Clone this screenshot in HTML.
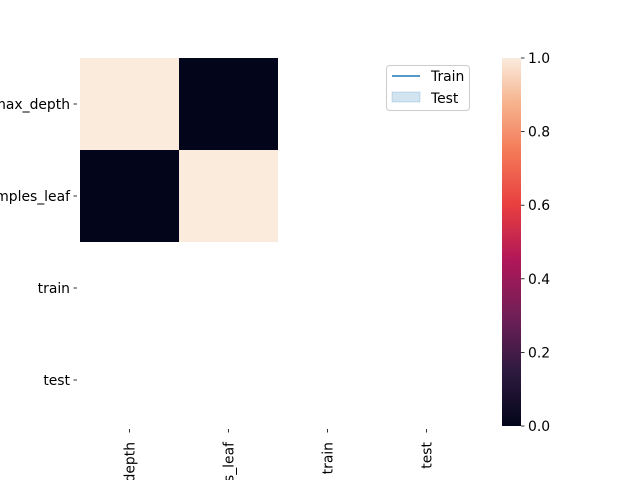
<!DOCTYPE html>
<html><head><meta charset="utf-8"><style>html,body{margin:0;background:#fff;width:640px;height:480px;overflow:hidden}svg{display:block;overflow:hidden;font-family:"DejaVu Sans","Liberation Sans",sans-serif}</style></head>
<body>
<svg id="c" width="640" height="480">
<defs><linearGradient id="rocket" x1="0" y1="1" x2="0" y2="0">
<stop offset="0" stop-color="#03051a"/><stop offset="0.15" stop-color="#2e1a3f"/><stop offset="0.3" stop-color="#701f57"/><stop offset="0.45" stop-color="#b01759"/><stop offset="0.6" stop-color="#e83f3f"/><stop offset="0.75" stop-color="#f47b59"/><stop offset="0.88" stop-color="#f6b48f"/><stop offset="1" stop-color="#faebdd"/></linearGradient>
<clipPath id="frame"><rect x="0" y="0" width="640" height="480"/></clipPath></defs>
<g id="root" clip-path="url(#frame)"></g>
</svg>
<script>
const rows=["max_depth","min_samples_leaf","train","test"];
const cols=["max_depth","min_samples_leaf","train","test"];
const values=[[1,0,null,null],[0,1,null,null],[null,null,null,null],[null,null,null,null]];
const cbTicks=[0,0.2,0.4,0.6,0.8,1.0];
const svg=document.getElementById('root');const NS="http://www.w3.org/2000/svg";
function mk(t,a,p){const e=document.createElementNS(NS,t);for(const k in a)e.setAttribute(k,a[k]);(p||svg).appendChild(e);return e;}
const X0=80,Y0=58,CW=99,CH=92,FS=13.9;
const xs=i=>X0+i*CW, ys=j=>Y0+j*CH;
const stops=[[0,[3,5,26]],[0.15,[46,26,63]],[0.3,[112,31,87]],[0.45,[176,23,89]],[0.6,[232,63,63]],[0.75,[244,123,89]],[0.88,[246,180,143]],[1,[250,235,221]]];
function color(v){for(let i=1;i<stops.length;i++){if(v<=stops[i][0]){const a=stops[i-1],b=stops[i];const t=(v-a[0])/(b[0]-a[0]);return 'rgb('+a[1].map((c,k)=>Math.round(c+(b[1][k]-c)*t)).join(',')+')';}}return 'rgb(250,235,221)';}
values.forEach((r,j)=>r.forEach((v,i)=>{if(v===null)return;const e=mk('rect',{x:xs(i),y:ys(j),width:CW,height:CH,fill:color(v)});

}));
rows.forEach((l,j)=>{const y=ys(j)+CH/2;mk('line',{x1:73.5,x2:77,y1:y,y2:y,stroke:'#000','stroke-width':0.8});const t=mk('text',{x:70,y:y+5,'text-anchor':'end','font-size':FS});t.textContent=l;

});
cols.forEach((l,i)=>{const x=xs(i)+CW/2;mk('line',{x1:x,x2:x,y1:429,y2:432.5,stroke:'#000','stroke-width':0.8});const t=mk('text',{x:0,y:0,'text-anchor':'end','font-size':FS,transform:'translate('+(x+5)+',442) rotate(-90)'});t.textContent=l;

});
const cb=mk('rect',{x:502,y:58,width:19,height:368,fill:'url(#rocket)'});


cbTicks.forEach(v=>{const y=426-v*368;mk('line',{x1:521,x2:524.5,y1:y,y2:y,stroke:'#000','stroke-width':0.8});const t=mk('text',{x:528,y:y+5,'font-size':FS});t.textContent=v.toFixed(1);

});
const lg=mk('g',{});


mk('rect',{x:386.5,y:65.5,width:83,height:45,rx:3,fill:'#fff',stroke:'#ccc'},lg);
mk('line',{x1:392,x2:420,y1:76,y2:76,stroke:'#1f77b4','stroke-width':1.5},lg);
mk('rect',{x:392,y:92,width:28,height:10,fill:'#1f77b4','fill-opacity':0.2,stroke:'#1f77b4','stroke-opacity':0.2},lg);
const t1=mk('text',{x:431,y:81,'font-size':FS},lg);t1.textContent='Train';


const t2=mk('text',{x:431,y:103,'font-size':FS},lg);t2.textContent='Test';


</script>
</body></html>
